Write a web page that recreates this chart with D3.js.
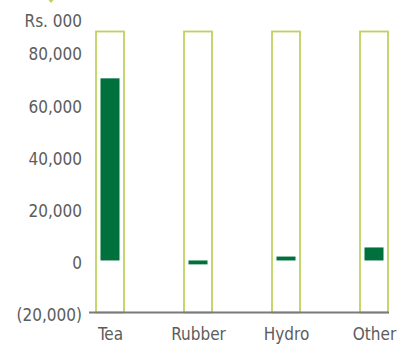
<!DOCTYPE html>
<html>
<head>
<meta charset="utf-8">
<script src="https://cdn.jsdelivr.net/npm/d3@7"></script>
<style>
  html, body { margin: 0; padding: 0; background: #fff; }
  svg { display: block; }
  text { font-family: "DejaVu Sans Condensed", "DejaVu Sans", sans-serif; fill: #5c5c5c; }
</style>
</head>
<body>
<svg id="chart" width="402" height="345"></svg>
<script>
// Profit by segment, Rs. 000
const categories = ["Tea", "Rubber", "Hydro", "Other"];
const values = [70000, -1500, 1500, 5000];
const frameRange = [-20000, 88000];
const tickValues = [-20000, 0, 20000, 40000, 60000, 80000];
const tickLabels = ["(20,000)", "0", "20,000", "40,000", "60,000", "80,000"];
const unitLabel = "Rs. 000";

const svg = d3.select("#chart");

const y = d3.scaleLinear().domain(frameRange).range([312.5, 31.5]);
const x = d3.scalePoint().domain(categories).range([110, 374]);

const frameW = 28, barW = 19;
const green = "#00703c", frameColor = "#bcd35f";
const labelFont = "'DejaVu Sans Condensed', 'DejaVu Sans', sans-serif";

// small marker at top
svg.append("path")
  .attr("d", "M48.5,0 L53.5,0 L51,3 Z")
  .attr("fill", frameColor);

// frames behind each bar
svg.append("g").selectAll("rect")
  .data(categories)
  .join("rect")
  .attr("x", d => x(d) - frameW / 2)
  .attr("y", y(frameRange[1]))
  .attr("width", frameW)
  .attr("height", y(frameRange[0]) - y(frameRange[1]))
  .attr("fill", "none")
  .attr("stroke", frameColor)
  .attr("stroke-width", 1.8);

// bars
svg.append("g").selectAll("rect")
  .data(values)
  .join("rect")
  .attr("x", (d, i) => x(categories[i]) - barW / 2)
  .attr("y", d => y(Math.max(0, d)))
  .attr("width", barW)
  .attr("height", d => Math.abs(y(d) - y(0)))
  .attr("fill", green);

// baseline
svg.append("line")
  .attr("x1", 89).attr("x2", 389)
  .attr("y1", y(frameRange[0])).attr("y2", y(frameRange[0]))
  .attr("stroke", "#7a7a7a").attr("stroke-width", 2);

// y axis labels
const yAxis = d3.axisLeft(y)
  .tickValues(tickValues)
  .tickFormat((d, i) => tickLabels[i])
  .tickSize(0).tickPadding(0);
const gy = svg.append("g").attr("transform", "translate(82,0)").call(yAxis);
gy.select(".domain").remove();
gy.selectAll("text")
  .attr("font-size", 17)
  .attr("fill", "#5c5c5c")
  .attr("dy", "0.45em")
  .style("font-family", labelFont);

svg.append("text")
  .attr("x", 82).attr("y", 27)
  .attr("text-anchor", "end")
  .attr("font-size", 17)
  .text(unitLabel);

// category labels
const xAxis = d3.axisBottom(x).tickSize(0).tickPadding(0);
const gx = svg.append("g").attr("transform", "translate(0,327)").call(xAxis);
gx.select(".domain").remove();
gx.selectAll("text")
  .attr("font-size", 17)
  .attr("fill", "#5c5c5c")
  .attr("dy", "0.75em")
  .style("font-family", labelFont);
</script>
</body>
</html>
